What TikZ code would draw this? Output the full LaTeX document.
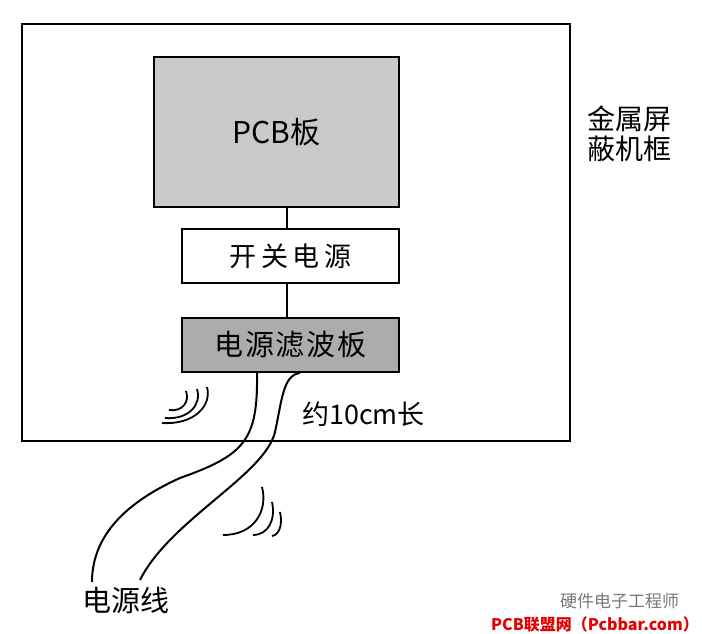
\documentclass[tikz,border=0pt]{standalone}
\usepackage{fontspec}
\newfontfamily\cjk{Noto Sans CJK SC}
\newfontfamily\cjkwide[LetterSpace=18]{Noto Sans CJK SC}
\definecolor{pcbgray}{RGB}{201,201,202}
\definecolor{filtergray}{RGB}{172,172,172}
\definecolor{markgray}{RGB}{120,120,120}
\definecolor{markred}{RGB}{228,0,0}
\begin{document}
\begin{tikzpicture}[x=1pt,y=-1pt,
  board/.style={draw,line width=2pt,minimum width=217pt,minimum height=54pt,inner sep=0pt},
  wire/.style={line width=2pt},
  wave/.style={line width=1.8pt},
  txt/.style={font=\cjk\fontsize{28}{30}\selectfont,inner sep=0pt}]
  \useasboundingbox (0,0) rectangle (702,634);
  % shielding frame
  \draw[line width=2.5pt] (22,24) rectangle (570,441);
  \node[txt,align=left,anchor=north west] (frame) at (587,106) {金属屏\\蔽机框};

  % boards
  \node[board,fill=pcbgray,minimum width=245pt,minimum height=150pt] (pcb) at (276.5,132)
    {\cjk\fontsize{30}{32}\selectfont PCB板};
  \node[board,fill=white] (psu) at (290.5,256) {\cjkwide\fontsize{27}{30}\selectfont 开关电源};
  \node[board,fill=filtergray] (filter) at (290.5,345)
    {\cjk\addfontfeature{LetterSpace=6}\fontsize{29}{30}\selectfont 电源滤波板};
  \draw[line width=1.5pt] ([xshift=-3.5pt]psu.north |- pcb.south) -- ([xshift=-3.5pt]psu.north);
  \draw[line width=1.5pt] ([xshift=-3.5pt]psu.south) -- ([xshift=-3.5pt]filter.north);

  % power cable
  \coordinate (end1) at (92,582);
  \coordinate (end2) at (140,580);
  \draw[wire] ([xshift=-33.5pt]filter.south) .. controls (258,440) and (245,455) .. (180,478)
    .. controls (120,505) and (92,540) .. (end1);
  \draw[wire] ([xshift=9.5pt]filter.south) .. controls (283,375) and (282,400) .. (275,432)
    .. controls (265,475) and (170,520) .. (end2);
  \node[txt,font=\cjk\fontsize{29}{30}\selectfont] (cable) at (126,600) {电源线};
  \node[txt,font=\cjk\fontsize{27}{30}\selectfont,anchor=west] (len) at (302,414) {约10cm长};

  % radiation
  \draw[wave] (207,387) .. controls (212,405) and (195,425) .. (162,423);
  \draw[wave] (197,389) .. controls (202,405) and (188,420) .. (165,418);
  \draw[wave] (186,391) .. controls (190,402) and (182,412) .. (169,410);
  \draw[wave] (262,487) .. controls (268,510) and (255,535) .. (223,535);
  \draw[wave] (272,502) .. controls (276,520) and (268,535) .. (253,535);
  \draw[wave] (280,512) .. controls (283,525) and (279,535) .. (272,536);

  % watermark
  \node[txt,font=\cjk\fontsize{17}{18}\selectfont,text=markgray,anchor=west] (mark) at (560,601) {硬件电子工程师};
  \node[txt,font=\cjk\fontsize{16}{18}\selectfont\bfseries,text=markred,anchor=east] (site) at (699,624) {PCB联盟网（Pcbbar.com）};
\end{tikzpicture}
\end{document}
